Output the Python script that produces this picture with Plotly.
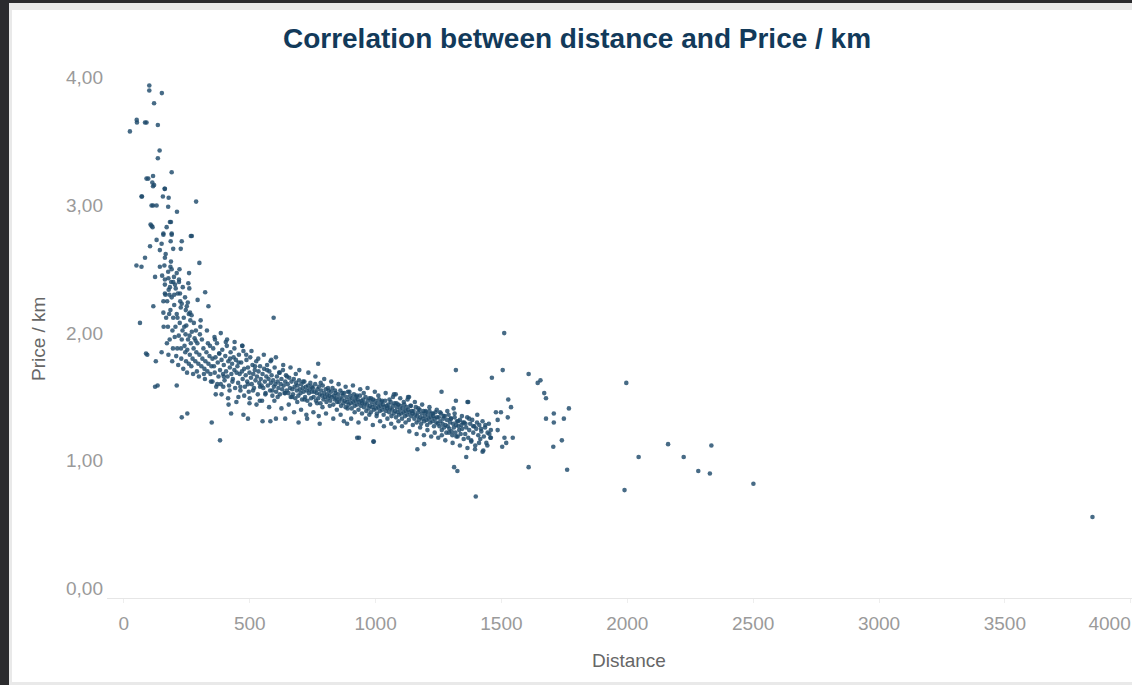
import plotly.graph_objects as go

# ---------------- data ----------------
# sparse short-distance points (top-left of the cloud)
dist_sparse = [101, 101, 151, 120, 51, 52, 84, 90, 135, 24,
               142, 135, 190, 90, 116, 113, 116, 162, 72, 155,
               178, 287, 116, 130, 176, 211, 106, 114, 170, 187,
               266, 157, 190, 97, 120, 163, 70, 110, 110, 183,
               270, 130, 150, 157, 190, 186, 230, 104, 143, 196,
               226, 84, 163, 50, 70, 143, 161, 190, 210, 300,
               259, 124, 163, 177, 196, 219, 256, 183, 163, 200,
               223, 260, 323, 117, 157, 230, 250, 263, 336, 64,
               93, 127, 150, 177, 134, 210, 88, 124]
ppk_sparse = [3.94, 3.90, 3.88, 3.80, 3.67, 3.65, 3.65, 3.65, 3.63, 3.58,
              3.43, 3.37, 3.26, 3.21, 3.23, 3.18, 3.15, 3.13, 3.07, 3.07,
              3.06, 3.03, 3.00, 3.00, 2.99, 2.95, 2.85, 2.83, 2.83, 2.87,
              2.76, 2.78, 2.78, 3.21, 3.16, 3.13, 3.07, 3.00, 2.84, 2.87,
              2.76, 2.73, 2.70, 2.77, 2.77, 2.72, 2.72, 2.68, 2.65, 2.66,
              2.66, 2.59, 2.59, 2.53, 2.52, 2.52, 2.53, 2.50, 2.47, 2.55,
              2.47, 2.44, 2.42, 2.43, 2.40, 2.40, 2.39, 2.36, 2.31, 2.30,
              2.31, 2.35, 2.32, 2.21, 2.16, 2.23, 2.21, 2.16, 2.21, 2.08,
              1.83, 1.78, 1.85, 1.83, 1.59, 1.59, 1.84, 1.58]

# dense cluster, roughly 150-550 km
dist_cluster = [165, 172, 178, 185, 190, 196, 200, 205, 210, 214,
                218, 222, 226, 230, 233, 238, 241, 245, 248, 252,
                255, 258, 262, 266, 270, 273, 277, 281, 284, 288,
                292, 296, 300, 304, 308, 312, 316, 320, 324, 328,
                332, 336, 340, 344, 348, 352, 175, 182, 188, 195,
                203, 208, 216, 224, 236, 243, 251, 264, 275, 286,
                298, 310, 322, 334, 346, 168, 180, 192, 212, 228,
                247, 268, 290, 318, 342, 305, 330, 360, 385, 410,
                440, 470, 395, 420, 365, 455, 500, 540,
                152, 158, 166, 171, 176, 181, 187, 193, 199, 206,
                213, 219, 227, 234, 240, 246, 254, 261, 269, 278,
                285, 293, 302, 157, 163, 185, 202, 221, 244, 258]
ppk_cluster = [2.30, 2.25, 2.34, 2.18, 2.28, 2.12, 2.22, 2.05, 2.15, 2.31,
               1.98, 2.08, 2.20, 1.95, 2.02, 2.12, 1.90, 1.99, 2.06, 1.87,
               1.95, 2.15, 1.83, 1.92, 2.01, 1.80, 1.88, 1.96, 1.78, 1.85,
               1.92, 1.76, 1.83, 2.05, 1.74, 1.80, 1.88, 1.72, 1.78, 1.85,
               1.70, 1.76, 1.82, 1.68, 1.74, 1.80, 2.05, 1.95, 2.40, 1.88,
               2.38, 1.82, 1.75, 2.25, 1.72, 2.28, 1.69, 2.10, 1.68, 2.02,
               1.66, 1.95, 1.64, 1.92, 1.62, 2.12, 2.15, 1.78, 1.88, 1.80,
               1.78, 1.74, 1.70, 1.68, 1.90, 2.10, 2.02, 1.97, 2.00, 1.95,
               1.93, 1.90, 1.58, 1.55, 1.52, 1.50, 1.49, 1.47,
               2.45, 2.05, 2.62, 1.92, 2.48, 2.30, 2.56, 2.02, 2.44, 2.35,
               2.12, 2.42, 1.88, 2.36, 2.05, 2.18, 2.24, 1.98, 2.14, 2.08,
               1.94, 2.26, 1.99, 2.25, 2.38, 2.52, 1.97, 2.50, 1.85, 1.76]

# main band 350-750 km (core)
dist_band_a = [352, 355, 358, 361, 364, 367, 370, 373, 376, 379, 382, 385, 388, 391, 394, 397, 400,
               403, 406, 409, 412, 415, 418, 421, 424, 427, 430, 433, 436, 439, 442, 445, 448,
               451, 454, 457, 460, 463, 466, 469, 472, 475, 478, 481, 484, 487, 490, 493, 496, 499,
               502, 505, 508, 511, 514, 517, 520, 523, 526, 529, 532, 535, 538, 541, 544, 547,
               551, 554, 557, 560, 563, 566, 569, 572, 575, 578, 581, 584, 587, 590, 593, 596, 599,
               602, 605, 608, 611, 614, 617, 620, 623, 626, 629, 632, 635, 638, 641, 644, 647,
               651, 654, 657, 660, 663, 666, 669, 672, 675, 678, 681, 684, 687, 690, 693, 696, 699,
               702, 705, 708, 711, 714, 717, 720, 723, 726, 729, 732, 735, 738, 741, 744, 747]
ppk_band_a = [1.62, 1.88, 1.74, 1.69, 1.81, 1.58, 1.92, 1.77, 1.66, 1.84, 1.71, 1.60, 1.79, 1.87, 1.68, 1.75, 1.63,
              1.82, 1.70, 1.90, 1.66, 1.78, 1.59, 1.73, 1.85, 1.68, 1.76, 1.64, 1.81, 1.71, 1.57, 1.79, 1.69,
              1.74, 1.61, 1.83, 1.68, 1.55, 1.77, 1.70, 1.64, 1.86, 1.72, 1.58, 1.67, 1.79, 1.62, 1.73, 1.54, 1.69,
              1.81, 1.65, 1.60, 1.75, 1.68, 1.57, 1.71, 1.63, 1.78, 1.66, 1.52, 1.70, 1.61, 1.74, 1.64, 1.59,
              1.68, 1.57, 1.72, 1.62, 1.53, 1.66, 1.75, 1.59, 1.64, 1.70, 1.55, 1.61, 1.67, 1.51, 1.63, 1.58, 1.73,
              1.60, 1.54, 1.66, 1.62, 1.57, 1.69, 1.52, 1.60, 1.64, 1.56, 1.71, 1.59, 1.53, 1.62, 1.67, 1.55,
              1.60, 1.53, 1.65, 1.57, 1.50, 1.62, 1.56, 1.52, 1.64, 1.58, 1.49, 1.61, 1.55, 1.59, 1.51, 1.63, 1.56,
              1.53, 1.60, 1.48, 1.57, 1.54, 1.62, 1.50, 1.58, 1.55, 1.47, 1.59, 1.53, 1.56, 1.61, 1.49, 1.54]

# main band 750-1150 km (core)
dist_band_b = [751, 754, 757, 760, 763, 766, 769, 772, 775, 778, 781, 784, 787, 790, 793, 796, 799,
               802, 805, 808, 811, 814, 817, 820, 823, 826, 829, 832, 835, 838, 841, 844, 847,
               851, 854, 857, 860, 863, 866, 869, 872, 875, 878, 881, 884, 887, 890, 893, 896, 899,
               902, 905, 908, 911, 914, 917, 920, 923, 926, 929, 932, 935, 938, 941, 944, 947,
               951, 954, 957, 960, 963, 966, 969, 972, 975, 978, 981, 984, 987, 990, 993, 996, 999,
               1002, 1005, 1008, 1011, 1014, 1017, 1020, 1023, 1026, 1029, 1032, 1035, 1038, 1041, 1044, 1047,
               1051, 1054, 1057, 1060, 1063, 1066, 1069, 1072, 1075, 1078, 1081, 1084, 1087, 1090, 1093, 1096, 1099,
               1102, 1105, 1108, 1111, 1114, 1117, 1120, 1123, 1126, 1129, 1132, 1135, 1138, 1141, 1144, 1147]
ppk_band_b = [1.57, 1.50, 1.54, 1.60, 1.47, 1.53, 1.56, 1.49, 1.58, 1.52, 1.45, 1.55, 1.51, 1.59, 1.48, 1.53, 1.50,
              1.56, 1.46, 1.52, 1.49, 1.55, 1.51, 1.47, 1.54, 1.50, 1.57, 1.44, 1.51, 1.48, 1.53, 1.49, 1.46,
              1.52, 1.46, 1.49, 1.55, 1.43, 1.48, 1.51, 1.45, 1.53, 1.47, 1.42, 1.50, 1.46, 1.54, 1.44, 1.48, 1.51,
              1.45, 1.41, 1.49, 1.46, 1.52, 1.43, 1.47, 1.50, 1.44, 1.48, 1.40, 1.46, 1.51, 1.43, 1.47, 1.45,
              1.48, 1.42, 1.45, 1.50, 1.39, 1.44, 1.47, 1.41, 1.49, 1.43, 1.38, 1.46, 1.42, 1.48, 1.40, 1.44, 1.47,
              1.41, 1.37, 1.45, 1.42, 1.48, 1.39, 1.43, 1.46, 1.40, 1.44, 1.36, 1.42, 1.47, 1.39, 1.43, 1.41,
              1.44, 1.38, 1.41, 1.46, 1.35, 1.40, 1.43, 1.37, 1.45, 1.39, 1.34, 1.42, 1.38, 1.44, 1.36, 1.40, 1.43,
              1.37, 1.33, 1.41, 1.38, 1.44, 1.35, 1.39, 1.42, 1.36, 1.40, 1.32, 1.38, 1.43, 1.35, 1.39, 1.37]

# main band 1150-1460 km (core)
dist_band_c = [1151, 1154, 1157, 1160, 1163, 1166, 1169, 1172, 1175, 1178, 1181, 1184, 1187, 1190, 1193, 1196, 1199,
               1202, 1205, 1208, 1211, 1214, 1217, 1220, 1223, 1226, 1229, 1232, 1235, 1238, 1241, 1244, 1247,
               1251, 1254, 1257, 1260, 1263, 1266, 1269, 1272, 1275, 1278, 1281, 1284, 1287, 1290, 1293, 1296, 1299,
               1302, 1305, 1308, 1311, 1314, 1317, 1320, 1323, 1326, 1329, 1332, 1335, 1338, 1341, 1344, 1347,
               1352, 1356, 1360, 1364, 1368, 1372, 1376, 1380, 1384, 1388, 1392, 1396, 1400,
               1404, 1408, 1412, 1416, 1420, 1425, 1430, 1435, 1440, 1445, 1450, 1456]
ppk_band_c = [1.39, 1.33, 1.36, 1.42, 1.30, 1.35, 1.38, 1.32, 1.40, 1.34, 1.29, 1.37, 1.33, 1.39, 1.31, 1.35, 1.38,
              1.32, 1.28, 1.36, 1.33, 1.39, 1.30, 1.34, 1.37, 1.31, 1.35, 1.27, 1.33, 1.38, 1.30, 1.34, 1.29,
              1.34, 1.27, 1.31, 1.37, 1.24, 1.29, 1.33, 1.26, 1.35, 1.28, 1.22, 1.32, 1.27, 1.36, 1.25, 1.30, 1.33,
              1.23, 1.20, 1.29, 1.26, 1.34, 1.22, 1.28, 1.31, 1.19, 1.27, 1.24, 1.32, 1.21, 1.28, 1.25, 1.30,
              1.30, 1.21, 1.26, 1.34, 1.18, 1.24, 1.29, 1.15, 1.32, 1.22, 1.27, 1.12, 1.25,
              1.36, 1.20, 1.28, 1.17, 1.23, 1.31, 1.19, 1.26, 1.14, 1.22, 1.29, 1.18]

# outer edges of the band (wider spread)
dist_band_edge = [362, 371, 379, 388, 397, 405, 414, 422, 431, 439, 447, 456, 463, 471, 478, 486, 493, 499,
                  507, 513, 521, 527, 534, 541, 549, 556, 562, 569, 577, 583, 590, 598, 604, 611, 619, 626, 633, 641, 648,
                  655, 662, 668, 676, 683, 689, 697, 704, 712, 718, 725, 733, 740, 747, 753, 761, 768, 774, 782, 789, 796,
                  803, 811, 818, 824, 832, 839, 846, 853, 861, 868, 874, 881, 889, 896, 903, 910, 917, 925, 932, 939, 946,
                  953, 961, 968, 975, 982, 989, 997, 1004, 1011, 1018, 1026, 1033, 1040, 1047, 1055, 1062, 1069, 1076, 1083, 1091, 1098,
                  1105, 1112, 1119, 1127, 1134, 1141, 1148, 1156, 1163, 1170, 1177, 1185, 1192, 1199, 1206, 1214, 1221, 1228, 1235, 1243, 1249,
                  1256, 1263, 1270, 1277, 1285, 1292, 1299, 1306, 1314, 1321, 1328, 1335, 1343, 1350, 1357, 1365, 1372, 1380, 1388, 1395,
                  1403, 1411, 1419, 1428, 1436, 1444, 1452]
ppk_band_edge = [1.95, 1.60, 1.84, 1.52, 1.66, 1.93, 1.49, 1.80, 1.62, 1.88, 1.46, 1.77, 1.58, 1.90, 1.51, 1.83, 1.60, 1.45,
                 1.86, 1.55, 1.74, 1.44, 1.80, 1.58, 1.47, 1.83, 1.52, 1.71, 1.42, 1.78, 1.55, 1.47, 1.81, 1.50, 1.69, 1.41, 1.75, 1.53, 1.66,
                 1.44, 1.73, 1.50, 1.38, 1.68, 1.46, 1.71, 1.40, 1.62, 1.48, 1.36, 1.69, 1.44, 1.58, 1.38, 1.66, 1.45, 1.35, 1.61, 1.42, 1.64,
                 1.37, 1.57, 1.43, 1.62, 1.33, 1.55, 1.40, 1.60, 1.36, 1.53, 1.31, 1.58, 1.41, 1.54, 1.33, 1.59, 1.38, 1.51, 1.30, 1.56, 1.37,
                 1.53, 1.33, 1.57, 1.36, 1.49, 1.28, 1.54, 1.35, 1.51, 1.31, 1.47, 1.27, 1.53, 1.33, 1.48, 1.29, 1.50, 1.26, 1.45, 1.31, 1.49,
                 1.27, 1.46, 1.30, 1.48, 1.23, 1.43, 1.28, 1.46, 1.21, 1.41, 1.26, 1.44, 1.20, 1.39, 1.24, 1.42, 1.19, 1.37, 1.22, 1.40, 1.18,
                 1.38, 1.20, 1.35, 1.16, 1.39, 1.22, 1.33, 1.14, 1.37, 1.19, 1.31, 1.12, 1.35, 1.17, 1.29, 1.10, 1.33, 1.16, 1.27, 1.09,
                 1.30, 1.14, 1.25, 1.08, 1.28, 1.12, 1.21]

# outliers and the long-distance tail
dist_outliers = [230, 252, 349, 382, 416, 426, 475, 493, 551, 582,
                 604, 641, 694, 728, 586, 595, 772, 927, 993, 1166,
                 1193, 1398, 887, 778, 1073, 1133, 1368, 1310, 1319, 1462,
                 1505, 1608, 1644, 1655, 1670, 1677, 1262, 1527, 1538, 1478,
                 1498, 1677, 1708, 1708, 1748, 1768, 1485, 1525, 1485, 1512,
                 1545, 1503, 1519, 1740, 1706, 1608, 1761, 1312, 1325, 1360,
                 1425, 1458, 1458, 1511, 1996, 2162, 2045, 2224, 2334, 2282,
                 2328, 1989, 2501, 3848, 934, 991, 1319, 1365, 1080, 1129]
ppk_outliers = [1.34, 1.37, 1.30, 1.16, 1.44, 1.37, 1.36, 1.33, 1.31, 1.31,
                1.33, 1.33, 1.30, 1.33, 1.79, 2.12, 1.76, 1.18, 1.15, 1.09,
                1.13, 0.72, 1.29, 1.29, 1.52, 1.50, 1.46, 1.41, 1.71, 1.65,
                1.71, 1.68, 1.61, 1.63, 1.53, 1.49, 1.54, 1.48, 1.42, 1.38,
                1.38, 1.33, 1.37, 1.30, 1.33, 1.41, 1.32, 1.34, 1.24, 1.18,
                1.18, 1.11, 1.14, 1.16, 1.11, 0.95, 0.93, 0.95, 0.92, 1.03,
                1.07, 1.24, 1.18, 2.00, 1.61, 1.13, 1.03, 1.03, 1.12, 0.92,
                0.90, 0.77, 0.82, 0.56, 1.18, 1.15, 1.47, 1.46, 1.52, 1.50]

x_ticks = [0, 500, 1000, 1500, 2000, 2500, 3000, 3500, 4000]
# last label padded with non-breaking spaces so it is pulled in from the right edge,
# as the original chart does
x_tick_labels = ["0", "500", "1000", "1500", "2000", "2500", "3000", "3500",
                 "4000" + "\u00a0" * 8]
y_ticks = [0, 1, 2, 3, 4]

title_text = "Correlation between distance and Price / km"
x_title = "Distance"
y_title = "Price / km"

# ---------------- figure ----------------
dist = (dist_sparse + dist_cluster + dist_band_a + dist_band_b + dist_band_c
        + dist_band_edge + dist_outliers)
ppk = (ppk_sparse + ppk_cluster + ppk_band_a + ppk_band_b + ppk_band_c
       + ppk_band_edge + ppk_outliers)
assert len(dist) == len(ppk)

W, H = 1132, 685
L, R, T, B = 107, 0, 65, 87
pw, ph = W - L - R, H - T - B


def px_x(p):
    return (p - L) / pw


def px_y(p):
    return (H - B - p) / ph


fig = go.Figure(
    go.Scatter(
        x=dist, y=ppk, mode="markers",
        marker=dict(size=4.6, color="#1e4a6b", opacity=0.82, line=dict(width=0)),
        showlegend=False,
    )
)

shapes = [
    dict(type="rect", xref="paper", yref="paper", layer="below",
         x0=px_x(9), x1=px_x(1140), y0=px_y(690), y1=px_y(3),
         fillcolor="#e9e9e9", line=dict(width=0)),
    dict(type="rect", xref="paper", yref="paper", layer="below",
         x0=px_x(12), x1=px_x(1140), y0=px_y(682), y1=px_y(10),
         fillcolor="#ffffff", line=dict(width=0)),
]

fig.update_layout(
    width=W, height=H, autosize=False,
    margin=dict(l=L, r=R, t=T, b=B, pad=0, autoexpand=False),
    paper_bgcolor="#2b2b2e",
    plot_bgcolor="#ffffff",
    separators=",.",
    font=dict(family="Arial", size=19, color="#999999"),
    title=dict(text=title_text, x=577 / W, xref="container", xanchor="center",
               y=1 - 38 / H, yref="container", yanchor="middle",
               font=dict(family="Arial", size=28, color="#123a5a", weight="bold")),
    shapes=shapes,
    xaxis=dict(range=[-67, 4005], tickvals=x_ticks, ticktext=x_tick_labels,
               automargin=False,
               showgrid=False, zeroline=False, showline=True,
               linecolor="#e6e6e6", linewidth=1,
               ticks="outside", ticklen=4, tickcolor="#eeeeee",
               tickfont=dict(size=19, color="#9a9a9a"),
               ticklabeloverflow="allow", ticklabelstandoff=4),
    yaxis=dict(range=[-0.075, 4.10], tickvals=y_ticks, tickformat=".2f",
               automargin=False,
               showgrid=False, zeroline=False, showline=False,
               tickfont=dict(size=19, color="#9a9a9a"),
               ticklabelstandoff=3),
    annotations=[
        dict(text=x_title, xref="paper", yref="paper", x=px_x(629), y=px_y(660),
             xanchor="center", yanchor="middle", showarrow=False,
             font=dict(family="Arial", size=19, color="#666666")),
        dict(text=y_title, xref="paper", yref="paper", x=px_x(38), y=px_y(339),
             xanchor="center", yanchor="middle", showarrow=False, textangle=-90,
             font=dict(family="Arial", size=19, color="#666666")),
    ],
)

# remove the browser's default body margin/scrollbars so the figure sits at the page origin
page_js = (
    "document.documentElement.style.overflow='hidden';"
    "document.body.style.overflow='hidden';"
    "document.body.style.margin='0';"
    "document.body.style.background='#2b2b2e';"
)
fig.write_html(
    "out.html",
    config={"responsive": False, "displayModeBar": False},
    post_script=page_js,
)
